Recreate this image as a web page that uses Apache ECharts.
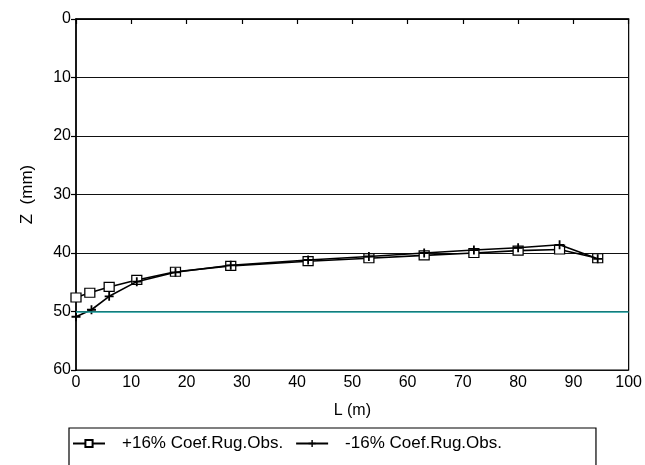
<!DOCTYPE html>
<html>
<head>
<meta charset="utf-8">
<script src="https://cdn.jsdelivr.net/npm/echarts@6/dist/echarts.min.js"></script>
<style>
  html, body { margin: 0; padding: 0; background: #fff; }
  #chart { width: 645px; height: 465px; }
</style>
</head>
<body>
<div id="chart"></div>
<script>
// +16% roughness coefficient profile
const lengthPlus = [0, 2.5, 6, 11, 18, 28, 42, 53, 63, 72, 80, 87.5, 94.4];
const depthPlus  = [47.6, 46.8, 45.8, 44.6, 43.2, 42.2, 41.4, 40.9, 40.4, 40, 39.6, 39.4, 40.9];
// -16% roughness coefficient profile
const lengthMinus = [0, 2.8, 6, 11, 18, 28, 42, 53, 63, 72, 80, 87.5, 94.4];
const depthMinus  = [50.9, 49.7, 47.4, 44.9, 43.3, 42.1, 41.2, 40.6, 40, 39.5, 39.1, 38.6, 41];
const referenceDepth = 50;
const namePlus = '+16% Coef.Rug.Obs.';
const nameMinus = '-16% Coef.Rug.Obs.';

const FONT = '"Liberation Sans", Arial, sans-serif';
const crossSymbol = 'path://M4,0H6V4H10V6H6V10H4V6H0V4H4Z';

const chart = echarts.init(document.getElementById('chart'));

const option = {
  backgroundColor: '#fff',
  animation: false,
  textStyle: { fontFamily: FONT },
  grid: {
    left: 76,
    right: 14,
    top: 19,
    bottom: 95,
    show: true,
    borderColor: '#000',
    borderWidth: 1.2
  },
  legend: {
    left: 69,
    top: 428,
    orient: 'horizontal',
    itemWidth: 32,
    itemHeight: 9,
    itemGap: 12,
    padding: [7, 94, 30, 3],
    borderColor: '#000',
    borderWidth: 1.2,
    textStyle: { color: '#000', fontSize: 17, fontFamily: FONT, padding: [0, 0, 0, 12] },
    data: [namePlus, nameMinus]
  },
  xAxis: {
    type: 'value',
    min: 0,
    max: 100,
    interval: 10,
    name: 'L (m)',
    nameLocation: 'middle',
    nameGap: 33,
    nameTextStyle: { color: '#000', fontSize: 16 },
    axisLine: { lineStyle: { color: '#000', width: 1.5 } },
    axisTick: { inside: false, length: 5, lineStyle: { color: '#000', width: 1.2 } },
    axisLabel: { color: '#000', fontSize: 16, margin: 5 },
    splitLine: { show: false }
  },
  yAxis: {
    type: 'value',
    inverse: true,
    min: 0,
    max: 60,
    interval: 10,
    name: 'Z  (mm)',
    nameLocation: 'middle',
    nameGap: 40,
    nameRotate: 90,
    nameTextStyle: { color: '#000', fontSize: 17 },
    axisLine: { lineStyle: { color: '#000', width: 1.5 } },
    axisTick: { inside: false, length: 5, lineStyle: { color: '#000', width: 1.2 } },
    axisLabel: { color: '#000', fontSize: 16, margin: 5 },
    splitLine: { show: true, lineStyle: { color: '#111', width: 1.2 } }
  },
  series: [
    {
      name: namePlus,
      type: 'line',
      data: lengthPlus.map((l, i) => [l, depthPlus[i]]),
      symbol: 'rect',
      symbolSize: [10, 9],
      itemStyle: { color: '#fff', borderColor: '#000', borderWidth: 1.2 },
      lineStyle: { color: '#000', width: 1.6 },
      z: 3,
      markLine: {
        silent: true,
        symbol: 'none',
        label: { show: false },
        lineStyle: { color: '#1a9c9c', width: 1.6, type: 'solid' },
        data: [{ yAxis: referenceDepth }]
      }
    },
    {
      name: nameMinus,
      type: 'line',
      data: lengthMinus.map((l, i) => [l, depthMinus[i]]),
      symbol: crossSymbol,
      symbolSize: 9,
      itemStyle: { color: '#000' },
      lineStyle: { color: '#000', width: 1.6 },
      z: 4
    }
  ]
};

chart.setOption(option);
</script>
</body>
</html>
